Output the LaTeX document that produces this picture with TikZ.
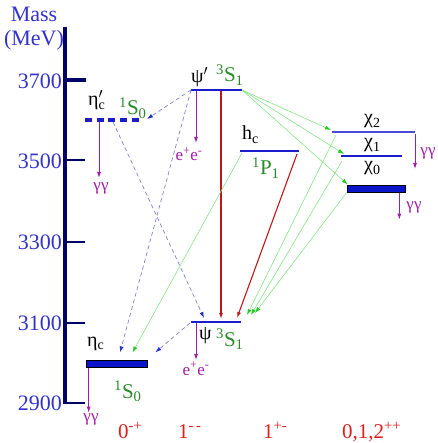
\documentclass[tikz,border=0pt]{standalone}
\usepackage{fontspec}
\setmainfont{Liberation Serif}
\usepackage{xcolor}
\usetikzlibrary{arrows.meta, calc}
\definecolor{axisnavy}{HTML}{000066}
\definecolor{labblue}{HTML}{3333CC}
\definecolor{lvlblue}{HTML}{1C1CC8}
\definecolor{boxblue}{HTML}{0A14C8}
\definecolor{spingreen}{HTML}{2A8A2A}
\definecolor{jpcred}{HTML}{E01E1E}
\definecolor{decaypurple}{HTML}{A21CA8}
\definecolor{hadred}{HTML}{C01818}
\definecolor{e1green}{HTML}{86E486}
\definecolor{tipgreen}{HTML}{22CC22}
\definecolor{m1blue}{HTML}{8080D4}
\definecolor{tipblue}{HTML}{2030D0}
\newcommand{\spin}[3]{\textsuperscript{#1}S\textsubscript{#2}#3}

\begin{document}
\begin{tikzpicture}[x=1pt, y=-1pt,
    ticklab/.style={font=\fontsize{22}{22}\selectfont, text=labblue, anchor=east, inner sep=0pt},
    axlab/.style={font=\fontsize{22}{22}\selectfont, text=labblue, inner sep=0pt, anchor=base},
    level/.style={lvlblue, line width=1.5pt},
    heavy/.style={draw=black, fill=boxblue, line width=0.7pt, inner sep=0pt},
    lvlname/.style={font=\fontsize{20}{20}\selectfont, anchor=base west, inner sep=0pt},
    term/.style={font=\fontsize{21}{21}\selectfont, text=spingreen, anchor=base west, inner sep=0pt},
    jpc/.style={font=\fontsize{21}{21}\selectfont, text=jpcred, anchor=base west, inner sep=0pt},
    decay/.style={decaypurple, line width=0.9pt, -{Latex[length=6pt, width=4pt]}},
    declab/.style={font=\fontsize{17}{17}\selectfont, text=decaypurple, anchor=base, inner sep=0pt},
    hadron/.style={hadred, line width=1.1pt, -{Latex[length=6pt, width=4pt]}},
    eone/.style={e1green, line width=0.6pt, -{Latex[length=6pt, width=4pt, color=tipgreen]}},
    mone/.style={m1blue, line width=0.7pt, dash pattern=on 4pt off 3pt,
                 -{Latex[length=6pt, width=4pt, color=tipblue]}},
  ]
  \useasboundingbox (0,0) rectangle (437,443);

  % --- mass axis ---
  \draw[axisnavy, line width=3.2pt] (65,27) -- (65,404);
  \draw[axisnavy, line width=3.6pt] (65,80) -- (86,80);
  \foreach \yy in {160.5, 241.5, 322.5, 403}
    \draw[axisnavy, line width=2pt] (65,\yy) -- (85,\yy);
  \node[ticklab] (t3700) at (62,81) {3700};
  \node[ticklab] (t3500) at (62,161) {3500};
  \node[ticklab] (t3300) at (62,242) {3300};
  \node[ticklab] (t3100) at (62,323) {3100};
  \node[ticklab] (t2900) at (62,403) {2900};
  \node[axlab] (mass) at (34,22) {Mass};
  \node[axlab] (mev) at (34,46) {(MeV)};

  % --- levels ---
  \coordinate (etapL) at (85,120);  \coordinate (etapR) at (140,120);
  \coordinate (psipL) at (191,90);  \coordinate (psipR) at (242,90);
  \coordinate (hcL)   at (240,151); \coordinate (hcR)   at (299,151);
  \coordinate (chi2L) at (332,132); \coordinate (chi2R) at (415,132);
  \coordinate (chi1L) at (341,156); \coordinate (chi1R) at (402,156);
  \coordinate (psiL)  at (191,322); \coordinate (psiR)  at (241,322);
  \draw[lvlblue, line width=4pt, dash pattern=on 7pt off 4.7pt] (etapL) -- (etapR);
  \draw[level] (psipL) -- (psipR);
  \draw[level] (hcL) -- (hcR);
  \draw[level, line width=1.8pt, lvlblue!80!white] (chi2L) -- (chi2R);
  \draw[level, line width=1.8pt] (chi1L) -- (chi1R);
  \draw[level] (psiL) -- (psiR);
  \node[heavy, minimum width=58pt, minimum height=6.5pt] (chi0) at (376,189) {};
  \node[heavy, minimum width=61pt, minimum height=6.5pt] (etac) at (116.5,364) {};

  % --- level names ---
  \node[lvlname] (etaplab) at (88,106) {η\rlap{$'$}\textsubscript{c}};
  \node[term] (etapterm) at (119,115) {\spin{1}{0}{}};
  \node[lvlname] (psiplab) at (191,83) {ψ\textsuperscript{$\prime$}};
  \node[term] (psipterm) at (216,82) {\spin{3}{1}{}};
  \node[lvlname] (hclab) at (242,140) {h\textsubscript{c}};
  \node[term] (hcterm) at (252,175) {\textsuperscript{1}P\textsubscript{1}};
  \node[lvlname] (chi2lab) at (364,124) {χ\textsubscript{2}};
  \node[lvlname] (chi1lab) at (364,148) {χ\textsubscript{1}};
  \node[lvlname] (chi0lab) at (364,171) {χ\textsubscript{0}};
  \node[lvlname] (psilab) at (199,339) {ψ};
  \node[term] (psiterm) at (216,346) {\spin{3}{1}{}};
  \node[lvlname] (etalab) at (87,346) {η\textsubscript{c}};
  \node[term] (etaterm) at (114,398) {\spin{1}{0}{}};

  % --- decays to photons / leptons ---
  \draw[decay] ($(etapL)+(14,2)$) -- ++(0,56) coordinate (gg1);
  \node[declab] (gg1lab) at (101,191) {γγ};
  \draw[decay] ($(psipL)+(5,1)$) -- ++(0,52) coordinate (ee1);
  \node[declab] (ee1lab) at (189,161) {e\textsuperscript{+}e\textsuperscript{-}};
  \draw[decay] ($(chi2R)+(0,2)$) -- ++(0,35) coordinate (gg2);
  \node[declab] (gg2lab) at (428,156) {γγ};
  \draw[decay] ($(chi0.south east)+(-6,0)$) -- ++(0,27) coordinate (gg3);
  \node[declab] (gg3lab) at (414,210) {γγ};
  \draw[decay] ($(psiL)+(5,1)$) -- ++(0,37) coordinate (ee2);
  \node[declab] (ee2lab) at (196,375) {e\textsuperscript{+}e\textsuperscript{-}};
  \draw[decay] (etac.south west) ++(3,0) -- ++(0,45) coordinate (gg4);
  \node[declab] (gg4lab) at (91,421) {γγ};

  % --- hadronic transitions ---
  \draw[hadron] ($(psipL)+(30,1)$) -- ($(psiL)+(30,-3)$);
  \draw[hadron] ($(hcR)+(-2,3)$) -- ($(psiL)+(46,-4)$);

  % --- E1 transitions ---
  \draw[eone] (psipR) -- ($(chi2L)+(-1,-2)$);
  \draw[eone] (psipR) -- ($(chi1L)+(3,-2)$);
  \draw[eone] (psipR) -- ($(chi0.north west)+(1,-1)$);
  \draw[eone] ($(chi2L)+(4,3)$) -- ($(psiR)+(6,-7)$);
  \draw[eone] ($(chi1L)+(1,5)$) -- ($(psiR)+(10,-7)$);
  \draw[eone] (chi0.south west) -- ($(psiR)+(14,-9)$);
  \draw[eone] ($(hcL)+(2,2)$) -- ($(etac.north)+(16,-8)$);

  % --- M1 transitions ---
  \draw[mone] (psipL) -- ($(etapR)+(7,-1)$);
  \draw[mone] (psipL) -- ($(etac.north)+(3.5,-8)$);
  \draw[mone] ($(etapL)+(28,2)$) -- ($(psiL)+(13,-4)$);
  \draw[mone] ($(psiL)+(-1,1)$) -- ($(etac.north east)+(8,-8)$);

  % --- J^PC ---
  \node[jpc] (jpc0) at (118,438) {0\textsuperscript{-+}};
  \node[jpc] (jpc1) at (178,438) {1\textsuperscript{-\,-}};
  \node[jpc] (jpc2) at (263,438) {1\textsuperscript{+-}};
  \node[jpc] (jpc3) at (342,438) {0,1,2\textsuperscript{++}};

\end{tikzpicture}
\end{document}
